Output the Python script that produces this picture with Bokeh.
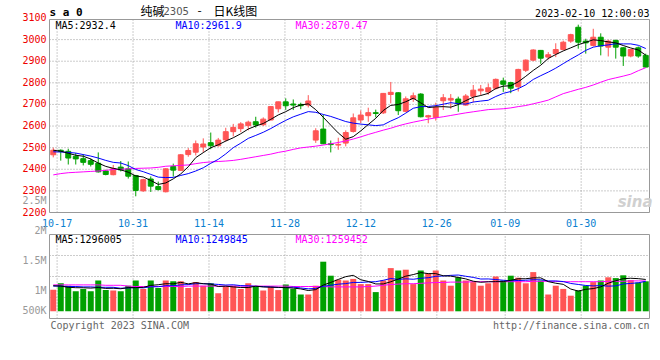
import numpy as np
import pandas as pd
from bokeh.plotting import figure
from bokeh.layouts import column
from bokeh.models import Range1d, Label, ColumnDataSource
from bokeh.embed import file_html
from bokeh.resources import INLINE

# ---------------- data ----------------
dates = ["10-14", "10-17", "10-18", "10-19", "10-20", "10-21", "10-24", "10-25", "10-26", "10-27",
         "10-28", "10-31", "11-01", "11-02", "11-03", "11-04", "11-07", "11-08", "11-09", "11-10",
         "11-11", "11-14", "11-15", "11-16", "11-17", "11-18", "11-21", "11-22", "11-23", "11-24",
         "11-25", "11-28", "11-29", "11-30", "12-01", "12-02", "12-05", "12-06", "12-07", "12-08",
         "12-09", "12-12", "12-13", "12-14", "12-15", "12-16", "12-19", "12-20", "12-21", "12-22",
         "12-23", "12-26", "12-27", "12-28", "12-29", "12-30", "01-03", "01-04", "01-05", "01-06",
         "01-09", "01-10", "01-11", "01-12", "01-13", "01-16", "01-17", "01-18", "01-19", "01-20",
         "01-30", "01-31", "02-01", "02-02", "02-03", "02-06", "02-07", "02-08", "02-09", "02-10"]

opens = [2467, 2488, 2483, 2460, 2449, 2440, 2428, 2392, 2375, 2410,
         2402, 2371, 2300, 2355, 2320, 2296, 2413, 2395, 2468, 2479,
         2503, 2523, 2509, 2536, 2574, 2588, 2602, 2620, 2606, 2628,
         2680, 2712, 2702, 2700, 2697, 2535, 2586, 2518, 2512, 2521,
         2575, 2628, 2648, 2662, 2661, 2746, 2754, 2668, 2726, 2748,
         2642, 2640, 2717, 2720, 2725, 2697, 2738, 2763, 2758, 2775,
         2809, 2801, 2782, 2858, 2905, 2950, 2919, 2935, 2954, 2993,
         3057, 2993, 2973, 3011, 2965, 2996, 2962, 2924, 2962, 2927]

highs = [2500, 2492, 2495, 2475, 2470, 2450, 2478, 2398, 2420, 2438,
         2436, 2374, 2356, 2367, 2343, 2405, 2426, 2470, 2498, 2533,
         2543, 2570, 2545, 2592, 2610, 2618, 2625, 2643, 2640, 2692,
         2713, 2728, 2723, 2708, 2743, 2590, 2652, 2533, 2546, 2580,
         2658, 2672, 2685, 2676, 2753, 2804, 2756, 2737, 2755, 2752,
         2652, 2708, 2748, 2748, 2736, 2748, 2790, 2790, 2797, 2820,
         2824, 2805, 2865, 2908, 2955, 2952, 2942, 2983, 2995, 3027,
         3069, 3004, 3050, 3029, 2999, 3000, 2965, 2955, 2968, 2935]

lows = [2455, 2440, 2422, 2422, 2418, 2413, 2385, 2372, 2372, 2390,
        2357, 2275, 2296, 2295, 2302, 2293, 2366, 2393, 2458, 2464,
        2478, 2493, 2505, 2528, 2552, 2572, 2580, 2593, 2600, 2626,
        2663, 2675, 2674, 2678, 2686, 2522, 2516, 2478, 2490, 2506,
        2570, 2613, 2620, 2640, 2656, 2705, 2651, 2664, 2712, 2640,
        2613, 2625, 2674, 2680, 2666, 2694, 2710, 2744, 2745, 2768,
        2758, 2752, 2760, 2850, 2900, 2888, 2908, 2919, 2950, 2985,
        2958, 2935, 2968, 2927, 2922, 2912, 2878, 2918, 2916, 2870]

closes = [2488, 2482, 2452, 2448, 2432, 2423, 2388, 2376, 2403, 2397,
          2368, 2302, 2352, 2322, 2306, 2402, 2396, 2467, 2487, 2518,
          2517, 2509, 2535, 2574, 2594, 2610, 2618, 2605, 2632, 2690,
          2712, 2694, 2697, 2694, 2716, 2578, 2518, 2514, 2515, 2570,
          2638, 2651, 2662, 2658, 2751, 2756, 2671, 2726, 2740, 2643,
          2648, 2687, 2731, 2728, 2703, 2739, 2766, 2771, 2777, 2816,
          2793, 2775, 2862, 2905, 2952, 2914, 2930, 2954, 2988, 3023,
          2988, 2985, 3011, 2970, 2993, 2965, 2924, 2954, 2924, 2873]

volumes = [1040000, 1200000, 1140000, 1000000, 1060000, 1000000, 1270000, 1030000, 1020000, 1000000,
           1140000, 1270000, 1060000, 1270000, 1080000, 1270000, 1250000, 1250000, 1080000, 1230000,
           1140000, 1200000, 950000, 1120000, 1140000, 1060000, 1200000, 1120000, 1020000, 1120000,
           1030000, 1170000, 1060000, 920000, 920000, 1140000, 1740000, 1390000, 1290000, 1270000,
           1310000, 1180000, 1180000, 980000, 1270000, 1580000, 1520000, 1540000, 1180000, 1520000,
           1450000, 1520000, 1270000, 1140000, 1350000, 1270000, 1230000, 1140000, 1200000, 1370000,
           1270000, 1390000, 1340000, 1200000, 1480000, 1270000, 920000, 1140000, 1060000, 890000,
           1020000, 1140000, 1230000, 1270000, 1350000, 1330000, 1400000, 1280000, 1220000, 1250000]

# moving-average values before a full window exists
ma5_head = [2488, 2484, 2474, 2465]
ma10_head = [2481, 2480, 2478, 2475, 2468, 2461, 2452, 2441, 2432]
ma30 = [2374, 2380, 2384, 2386, 2388, 2390, 2392, 2395, 2399, 2400,
        2402, 2404, 2405, 2406, 2409, 2414, 2416, 2418, 2420, 2426,
        2431, 2434, 2436, 2438, 2441, 2446, 2452, 2458, 2464, 2470,
        2478, 2484, 2492, 2499, 2503, 2507, 2512, 2518, 2524, 2531,
        2540, 2550, 2561, 2571, 2581, 2590, 2601, 2610, 2618, 2625,
        2632, 2638, 2643, 2649, 2655, 2661, 2666, 2671, 2676, 2678,
        2680, 2684, 2690, 2695, 2703, 2711, 2720, 2735, 2750, 2760,
        2770, 2779, 2790, 2803, 2815, 2823, 2831, 2840, 2856, 2870]

vol_ma5_head = [1140000, 1130000, 1100000, 1090000]
vol_ma10_head = [1130000, 1130000, 1120000, 1120000, 1110000, 1110000, 1100000, 1100000, 1100000]
vol_ma30 = [1160000, 1160000, 1160000, 1160000, 1160000, 1160000, 1160000, 1150000, 1150000, 1150000,
            1130000, 1120000, 1120000, 1120000, 1120000, 1120000, 1120000, 1120000, 1130000, 1130000,
            1130000, 1130000, 1130000, 1130000, 1130000, 1130000, 1130000, 1130000, 1130000, 1130000,
            1130000, 1130000, 1120000, 1120000, 1120000, 1120000, 1120000, 1110000, 1110000, 1110000,
            1110000, 1110000, 1120000, 1130000, 1150000, 1170000, 1180000, 1190000, 1190000, 1200000,
            1210000, 1220000, 1220000, 1230000, 1230000, 1230000, 1240000, 1240000, 1240000, 1240000,
            1240000, 1240000, 1240000, 1240000, 1250000, 1250000, 1250000, 1250000, 1240000, 1240000,
            1240000, 1240000, 1240000, 1240000, 1250000, 1250000, 1250000, 1260000, 1260000, 1259452]

tick_dates = ["10-17", "10-31", "11-14", "11-28", "12-12", "12-26", "01-09", "01-30"]
price_ticks = [2200, 2300, 2400, 2500, 2600, 2700, 2800, 2900, 3000, 3100]
vol_ticks = [500000, 1000000]
vol_tick_labels = ["500K", "1M"]
vol_extra_labels = ["1.5M", "2M", "2.5M"]   # Sina stacks these above the 1M label
vol_base = 500000

title_code = "s a 0"
title_name = "纯碱"
title_contract = "2305"
title_kind = "日K线图"
timestamp = "2023-02-10 12:00:03"
price_ma_text = ["MA5:2932.4", "MA10:2961.9", "MA30:2870.47"]
vol_ma_text = ["MA5:1296005", "MA10:1249845", "MA30:1259452"]
copyright_text = "Copyright 2023 SINA.COM"
url_text = "http://finance.sina.com.cn"

# ---------------- derived series ----------------
n = len(dates)
xs = np.arange(n)
close_s = pd.Series(closes, dtype=float)
ma5 = close_s.rolling(5).mean().to_numpy()
ma5[:4] = ma5_head
ma10 = close_s.rolling(10).mean().to_numpy()
ma10[:9] = ma10_head
vol_s = pd.Series(volumes, dtype=float)
vma5 = vol_s.rolling(5).mean().to_numpy()
vma5[:4] = vol_ma5_head
vma10 = vol_s.rolling(10).mean().to_numpy()
vma10[:9] = vol_ma10_head

RED = "#ff5555"
GREEN = "#00a000"
colors = [RED if c >= o else GREEN for o, c in zip(opens, closes)]

src = ColumnDataSource(dict(
    x=xs, o=opens, h=highs, l=lows, c=closes,
    top=np.maximum(opens, closes), bot=np.minimum(opens, closes),
    color=colors, vol=volumes,
    ma5=ma5, ma10=ma10, ma30=ma30,
    vma5=vma5, vma10=vma10, vma30=vol_ma30,
))

# Sina spreads its date gridlines over n-1 steps across the panel width
tick_pos = [-0.5 + dates.index(d) * n / (n - 1) for d in tick_dates]

# ---------------- layout geometry (pixels) ----------------
W, H = 660, 340
PX_LEFT, PX_RIGHT = 49, 649
PX_PRICE_TOP, PX_PRICE_BOT = 19, 212
PX_VOL_TOP, PX_VOL_BOT = 234, 318

X_LO, X_HI = -0.5, n - 0.5
PRICE_LO, PRICE_TOP = 2200, 3093
VOL_LO, VOL_HI = 320000, 2420000

ux = (PX_RIGHT - PX_LEFT) / (X_HI - X_LO)
kp = (PRICE_TOP - PRICE_LO) / (PX_PRICE_BOT - PX_PRICE_TOP)
kv = (VOL_HI - VOL_LO) / (PX_VOL_BOT - PX_VOL_TOP)

x_range = Range1d(X_LO - PX_LEFT / ux, X_HI + (W - PX_RIGHT) / ux)
y_range = Range1d(PRICE_LO - (H - PX_PRICE_BOT) * kp, PRICE_TOP + PX_PRICE_TOP * kp)
vol_range = Range1d(VOL_LO - (H - PX_VOL_BOT) * kv, VOL_HI + PX_VOL_TOP * kv)

MONO = "DejaVu Sans Mono"
CJK = "Noto Sans CJK SC"
GRID = "#999999"
FRAME = "#999999"
AXIS_GRAY = "#999999"
PRICE_RED = "#ee0000"
DATE_BLUE = "#0a7fd0"
MA_COLORS = ["#000000", "#0000ff", "#ff00ff"]
LEGEND_OFFSETS = [6, 126, 246]

p = figure(width=W, height=H, x_range=x_range, y_range=y_range,
           output_backend="svg", toolbar_location=None, title=None,
           x_axis_location=None, y_axis_location=None, min_border=0,
           outline_line_color=None, background_fill_color="white",
           border_fill_color="white")
p.extra_y_ranges = {"vol": vol_range}
p.grid.visible = False


def put(text, x, y, color, dx=0, dy=0, size="10px", font=MONO, align="left",
        style="normal", yr="default"):
    """dx: pixels to the right, dy: pixels downward."""
    p.add_layout(Label(x=x, y=y, x_offset=dx, y_offset=-dy, text=text,
                       text_color=color, text_font_size=size, text_font=font,
                       text_align=align, text_baseline="middle",
                       text_font_style=style, y_range_name=yr))


# ---- gridlines (dotted) ----
grid_kw = dict(line_color=GRID, line_width=1, line_dash="1 2")
inner_price = [t for t in price_ticks if PRICE_LO < t < PRICE_TOP]
p.segment(x0=[X_LO] * len(inner_price), x1=[X_HI] * len(inner_price),
          y0=inner_price, y1=inner_price, **grid_kw)
p.segment(x0=tick_pos, x1=tick_pos, y0=[PRICE_LO] * len(tick_pos),
          y1=[PRICE_TOP] * len(tick_pos), **grid_kw)
vol_grid = [VOL_LO + (VOL_HI - VOL_LO) * k / 4 for k in (1, 2, 3)]
p.segment(x0=[X_LO] * 3, x1=[X_HI] * 3, y0=vol_grid, y1=vol_grid,
          y_range_name="vol", **grid_kw)
p.segment(x0=tick_pos, x1=tick_pos, y0=[VOL_LO] * len(tick_pos),
          y1=[VOL_HI] * len(tick_pos), y_range_name="vol", **grid_kw)

# ---- panel frames ----
p.quad(left=[X_LO], right=[X_HI], bottom=[PRICE_LO], top=[PRICE_TOP],
       fill_color=None, line_color=FRAME, line_width=1)
p.quad(left=[X_LO], right=[X_HI], bottom=[VOL_LO], top=[VOL_HI],
       fill_color=None, line_color=FRAME, line_width=1, y_range_name="vol")

# ---- candles and price moving averages ----
p.segment(x0="x", y0="l", x1="x", y1="h", line_color="color", line_width=1, source=src)
p.vbar(x="x", top="top", bottom="bot", width=0.66, fill_color="color",
       line_color="color", line_width=1, source=src)
p.line("x", "ma30", color=MA_COLORS[2], line_width=1, source=src)
p.line("x", "ma10", color=MA_COLORS[1], line_width=1, source=src)
p.line("x", "ma5", color=MA_COLORS[0], line_width=1, source=src)

# ---- volume bars and moving averages ----
p.vbar(x="x", top="vol", bottom=vol_base, width=0.8, fill_color="color",
       line_color=None, source=src, y_range_name="vol")
p.line("x", "vma30", color=MA_COLORS[2], line_width=1, source=src, y_range_name="vol")
p.line("x", "vma10", color=MA_COLORS[1], line_width=1, source=src, y_range_name="vol")
p.line("x", "vma5", color=MA_COLORS[0], line_width=1, source=src, y_range_name="vol")

# ---- axis labels ----
for t in price_ticks:
    put(str(t), X_LO, t, PRICE_RED, dx=-3, dy=-1, align="right")
for t, s in zip(tick_pos, tick_dates):
    put(s, t, PRICE_LO, DATE_BLUE, dy=10.5, align="center")
for t, s in zip(vol_ticks, vol_tick_labels):
    put(s, X_LO, t, AXIS_GRAY, dx=-3, dy=-1, align="right", yr="vol")
for k, s in enumerate(vol_extra_labels, start=1):
    put(s, X_LO, vol_ticks[-1], AXIS_GRAY, dx=-3, dy=-1 - 30 * k, align="right", yr="vol")

# ---- header ----
put(title_code, X_LO, PRICE_TOP, "#000000", dy=-7, size="11px", style="bold")
put(title_name, X_LO, PRICE_TOP, "#000000", dx=91, dy=-9, size="12px", font=CJK)
put(title_contract, X_LO, PRICE_TOP, "#555555", dx=114, dy=-8.5, size="10px", font="DejaVu Sans")
put("-", X_LO, PRICE_TOP, "#000000", dx=148, dy=-9, size="12px", font=CJK)
put(title_kind, X_LO, PRICE_TOP, "#000000", dx=164, dy=-9, size="12px", font=CJK)
put(timestamp, X_HI, PRICE_TOP, "#000000", dy=-6, align="right")

# ---- legends ----
for txt, col, off in zip(price_ma_text, MA_COLORS, LEGEND_OFFSETS):
    put(txt, X_LO, PRICE_TOP, col, dx=off, dy=5.5)
for txt, col, off in zip(vol_ma_text, MA_COLORS, LEGEND_OFFSETS):
    put(txt, X_LO, VOL_HI, col, dx=off, dy=4.8, yr="vol")

# ---- watermark and footer ----
put("sina", X_HI, PRICE_LO, "#d0d0d0", dx=3, dy=-11, size="15px",
    font="DejaVu Sans", align="right", style="bold italic")
put(copyright_text, X_LO, VOL_LO, "#666666", dx=1, dy=6.7, yr="vol")
put(url_text, X_HI, VOL_LO, "#666666", dy=6.7, align="right", yr="vol")

root = column(p)

open("out.html", "w").write(file_html(root, INLINE))
